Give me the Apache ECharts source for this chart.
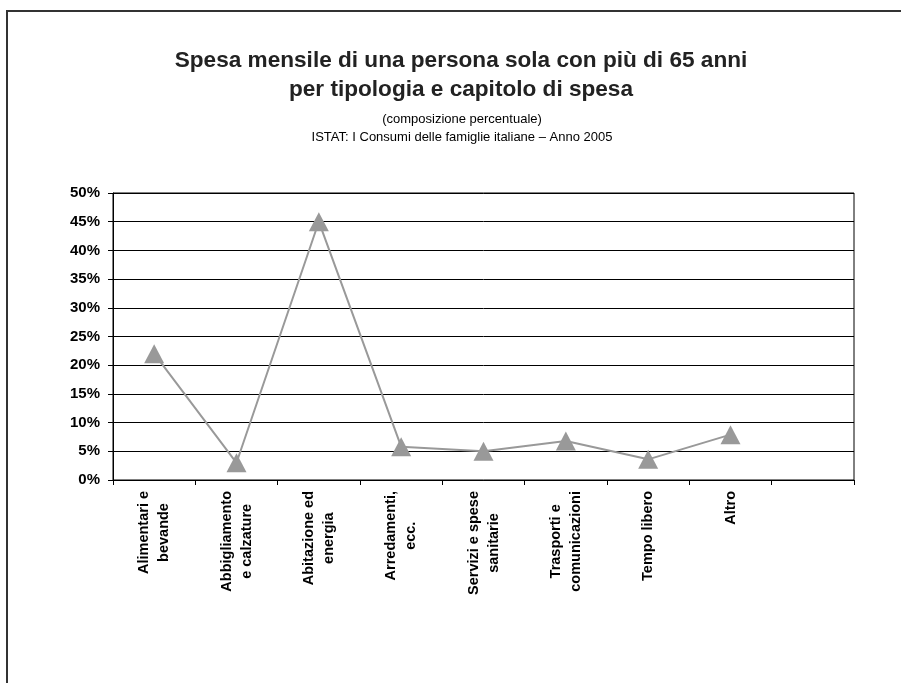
<!DOCTYPE html>
<html>
<head>
<meta charset="utf-8">
<script src="https://cdn.jsdelivr.net/npm/echarts@6/dist/echarts.min.js"></script>
<style>html,body{margin:0;padding:0;background:#fff}#c{width:901px;height:683px}</style>
</head>
<body>
<div id="c"></div>
<script>
const categories = [
  ["Alimentari e", "bevande"],
  ["Abbigliamento", "e calzature"],
  ["Abitazione ed", "energia"],
  ["Arredamenti,", "ecc."],
  ["Servizi e spese", "sanitarie"],
  ["Trasporti e", "comunicazioni"],
  ["Tempo libero"],
  ["Altro"],
  [""]
];
const values = [22, 3, 45, 5.8, 5, 6.8, 3.6, 7.9];
const titleLines = ["Spesa mensile di una persona sola con più di 65 anni", "per tipologia e capitolo di spesa"];
const subLines = ["(composizione percentuale)", "ISTAT: I Consumi delle famiglie italiane – Anno 2005"];

const FONT = "Arial, 'Liberation Sans', Helvetica, sans-serif";
const chart = echarts.init(document.getElementById('c'), null, {renderer: 'canvas'});
chart.setOption({
  backgroundColor: '#fff',
  animation: false,
  grid: {left: 113, right: 47, top: 193, bottom: 203, show: true, borderColor: '#000', borderWidth: 1, containLabel: false},
  xAxis: {
    type: 'category',
    data: categories.map((c, i) => ({value: String(i)})),
    boundaryGap: true,
    axisLine: {lineStyle: {color: '#000', width: 1}},
    axisTick: {show: true, inside: false, length: 5, interval: 0, lineStyle: {color: '#000'}},
    axisLabel: {
      interval: 0, rotate: 90, margin: 11,
      formatter: (v) => categories[+v].map(l => '{c|' + l + '}').join('\n'),
      rich: {c: {align: 'center', fontFamily: FONT, fontWeight: 'bold', fontSize: 14.5, lineHeight: 20, color: '#000'}}
    },
    splitLine: {show: false}
  },
  yAxis: {
    type: 'value', min: 0, max: 50, interval: 5,
    axisLine: {show: true, lineStyle: {color: '#000'}},
    axisTick: {show: true, inside: false, length: 5, lineStyle: {color: '#000'}},
    axisLabel: {formatter: '{value}%', margin: 13, fontFamily: FONT, fontWeight: 'bold', fontSize: 15, color: '#000'},
    splitLine: {show: true, lineStyle: {color: '#000', width: 1}}
  },
  series: [{
    type: 'line',
    data: values,
    symbol: 'triangle',
    symbolSize: [20, 19],
    showAllSymbol: true,
    itemStyle: {color: '#999999'},
    lineStyle: {color: '#999999', width: 2},
    z: 5
  }],
  graphic: [
    {type: 'polyline', shape: {points: [[7, 683], [7, 11], [901, 11]]}, style: {stroke: '#333', lineWidth: 2, fill: null}},
    {type: 'text', x: 461, y: 61, style: {text: titleLines[0], fontFamily: FONT, fontWeight: 'bold', fontSize: 22.6, fill: '#222', align: 'center', verticalAlign: 'middle'}},
    {type: 'text', x: 461, y: 90, style: {text: titleLines[1], fontFamily: FONT, fontWeight: 'bold', fontSize: 22.6, fill: '#222', align: 'center', verticalAlign: 'middle'}},
    {type: 'text', x: 462, y: 119, style: {text: subLines[0], fontFamily: FONT, fontSize: 13, fill: '#000', align: 'center', verticalAlign: 'middle'}},
    {type: 'text', x: 462, y: 137, style: {text: subLines[1], fontFamily: FONT, fontSize: 13, fill: '#000', align: 'center', verticalAlign: 'middle'}}
  ]
});
</script>
</body>
</html>
